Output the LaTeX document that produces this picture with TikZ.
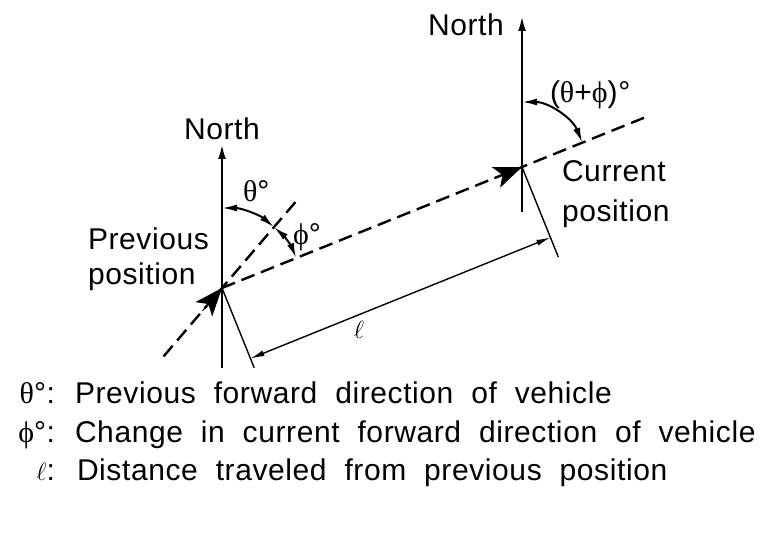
\documentclass[tikz,border=0pt]{standalone}
\usepackage{fontspec}
\setmainfont{Liberation Sans}[LetterSpace=2, WordSpace=2]
\newfontfamily\grk{Liberation Serif}
\usetikzlibrary{arrows.meta,calc}
\begin{document}
\begin{tikzpicture}[x=1pt,y=1pt,
  font=\fontsize{30}{36}\selectfont,
  every node/.style={inner sep=0pt, outer sep=0pt},
  northline/.style={line width=1.8pt,-{Latex[length=14pt,width=8pt]}},
  dashline/.style={line width=2.4pt, dash pattern=on 14pt off 7pt},
  bigtip/.style={line width=1pt,-{Stealth[length=28pt,width=22pt,inset=7pt]}},
  thinline/.style={line width=1.4pt},
  dimline/.style={line width=1.4pt,{Latex[length=14pt,width=6pt]}-{Latex[length=14pt,width=6pt]}},
  arcline/.style={line width=2pt,{Latex[length=15pt,width=7pt]}-{Latex[length=15pt,width=7pt]}},
  lbl/.style={anchor=base west},
]
\useasboundingbox (0,0) rectangle (768,544);
% key points
\coordinate (P) at (222,256);
\coordinate (C) at (522,377);
\coordinate (Nb1) at (222,176);
\coordinate (Nt1) at (222,399);
\coordinate (Nb2) at (522,332);
\coordinate (Nt2) at (522,527);
\coordinate (Tlo) at ($(P)+(229.5:90)$);
\coordinate (Thi) at ($(P)+(49.5:115)$);
\coordinate (Hend) at ($(P)!1.42!(C)$);
\coordinate (Pq) at ($(P)+(-68.03:86)$);
\coordinate (Cq) at ($(C)+(-68.03:97)$);
\coordinate (Pd) at ($(P)+(-68.03:76)$);
\coordinate (Cd) at ($(C)+(-68.03:76)$);
\coordinate (Pt) at ($(P)+(229.5:30)$);
\coordinate (Ct) at ($(C)+(201.97:30)$);
% north axes
\draw[northline] (Nb1) -- (Nt1);
\draw[northline] (Nb2) -- (Nt2);
% headings
\draw[dashline] (Tlo) -- (Thi);
\draw[dashline] (P) -- (Hend);
\draw[bigtip] (Pt) -- (P);
\draw[bigtip] (Ct) -- (C);
% perpendiculars and distance
\draw[thinline] (P) -- (Pq);
\draw[thinline] (C) -- (Cq);
\draw[dimline] (Pd) -- (Cd);
% angle arcs
\draw[arcline] ($(P)+(90:80)$) arc[start angle=90, end angle=49.5, radius=80];
\draw[arcline] ($(P)+(49.5:80)$) arc[start angle=49.5, end angle=21.97, radius=80];
\draw[arcline] ($(C)+(90:65)$) arc[start angle=90, end angle=21.97, radius=65];
% labels
\node[anchor=base] (north1) at (222,404) {North};
\node[anchor=base] (north2) at (466,508) {North};
\node[lbl] (prev1) at (88,294) {Previous};
\node[lbl] (prev2) at (88,259) {position};
\node[lbl] (cur1) at (562,362) {Current};
\node[lbl] (cur2) at (562,322) {position};
\node[lbl] (th) at (243,342) {{\grk θ}°};
\node[lbl] (ph) at (293,299) {{\grk ϕ}°};
\node[lbl] (thph) at (550,441) {({\grk θ}+{\grk ϕ})°};
\node (ell) at (359,214) {$\ell$};
% legend
\node[anchor=base east] (s1) at (55,141) {{\grk θ}°:};
\node[lbl] (l1) at (75,141) {Previous forward direction of vehicle};
\node[anchor=base east] (s2) at (55,102) {{\grk ϕ}°:};
\node[lbl] (l2) at (75,102) {Change in current forward direction of vehicle};
\node[anchor=base east] (s3) at (55,64) {$\ell$:};
\node[lbl] (l3) at (77,64) {Distance traveled from previous position};
\end{tikzpicture}
\end{document}
